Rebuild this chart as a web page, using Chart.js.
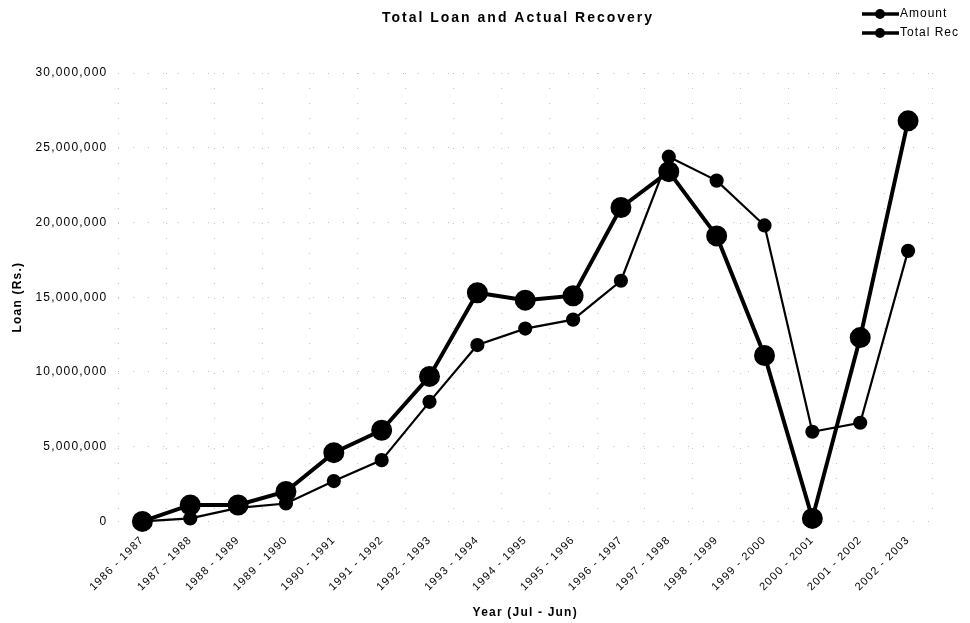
<!DOCTYPE html>
<html>
<head>
<meta charset="utf-8">
<script src="https://cdn.jsdelivr.net/npm/chart.js@4"></script>
<style>
  html, body { margin: 0; padding: 0; background: #fff; }
  #wrap { width: 970px; height: 623px; }
</style>
</head>
<body>
<div id="wrap"><canvas id="chart" width="970" height="623"></canvas></div>
<script>
// 연도 (Jul - Jun)
const years = [
  "1986 - 1987", "1987 - 1988", "1988 - 1989", "1989 - 1990", "1990 - 1991",
  "1991 - 1992", "1992 - 1993", "1993 - 1994", "1994 - 1995", "1995 - 1996",
  "1996 - 1997", "1997 - 1998", "1998 - 1999", "1999 - 2000", "2000 - 2001",
  "2001 - 2002", "2002 - 2003",
];

// 대출 금액
const amount = [
  0, 1100000, 1100000, 2000000, 4600000, 6100000, 9700000, 15300000,
  14800000, 15100000, 21000000, 23400000, 19100000, 11100000, 200000,
  12300000, 26800000,
];

// 실제 회수
const totalRec = [
  0, 200000, 900000, 1200000, 2700000, 4100000, 8000000, 11800000,
  12900000, 13500000, 16100000, 24400000, 22800000, 19800000, 6000000,
  6600000, 18100000,
];

const yTicks = [0, 5000000, 10000000, 15000000, 20000000, 25000000, 30000000];

const chartTitle = "Total Loan and Actual Recovery";

const FONT = "'Liberation Sans', Arial, sans-serif";

// 원본 글자가 옆으로 늘어나 있어서 자간을 조금 준다
const spacing = {
  id: "spacing",
  beforeUpdate(chart) {
    chart.ctx.letterSpacing = "1.2px";
  },
  beforeDraw(chart) {
    chart.ctx.letterSpacing = "1.2px";
  },
};

// 제목 + 범례 (오른쪽 위, 선 + 점)
const headerPlugin = {
  id: "headerPlugin",
  afterDraw(chart) {
    const ctx = chart.ctx;
    ctx.save();
    ctx.fillStyle = "#000";
    ctx.letterSpacing = "2px";
    ctx.font = "bold 14px " + FONT;
    ctx.textAlign = "center";
    ctx.textBaseline = "middle";
    ctx.fillText(chartTitle, 518, 18);

    ctx.letterSpacing = "1px";
    const x0 = 862;
    let y = 14;
    chart.data.datasets.forEach((ds) => {
      ctx.strokeStyle = "#000";
      ctx.fillStyle = "#000";
      ctx.lineWidth = 3.5;
      ctx.beginPath();
      ctx.moveTo(x0, y);
      ctx.lineTo(x0 + 37, y);
      ctx.stroke();
      ctx.beginPath();
      ctx.arc(x0 + 18, y, 5, 0, Math.PI * 2);
      ctx.fill();
      ctx.font = "12px " + FONT;
      ctx.textAlign = "left";
      ctx.fillText(ds.label, x0 + 38, y);
      y += 19;
    });
    ctx.restore();
  },
};

const $chart = document.getElementById("chart").getContext("2d");

new Chart($chart, {
  type: "line",
  data: {
    labels: years,
    datasets: [
      {
        label: "Amount",
        data: amount,
        borderColor: "#000",
        backgroundColor: "#000",
        borderWidth: 4,
        pointRadius: 8.5,
        pointHoverRadius: 8.5,
        tension: 0,
        clip: false,
      },
      {
        label: "Total Rec",
        data: totalRec,
        borderColor: "#000",
        backgroundColor: "#000",
        borderWidth: 2.2,
        pointRadius: 6,
        pointHoverRadius: 6,
        tension: 0,
        clip: false,
      },
    ],
  },
  options: {
    responsive: false,
    animation: false,
    layout: { padding: { left: 10, right: 38, top: 73, bottom: 3 } },
    plugins: {
      legend: { display: false },
      tooltip: { enabled: false },
      title: { display: false },
    },
    scales: {
      x: {
        offset: true,
        grid: { color: "#c4c4c4", drawTicks: false, offset: true },
        border: { display: false, dash: [1, 14] },
        ticks: {
          color: "#000",
          minRotation: 45,
          maxRotation: 45,
          padding: 12,
          font: { family: FONT, size: 11 },
        },
        title: {
          display: true,
          text: "Year (Jul - Jun)",
          color: "#000",
          font: { family: FONT, size: 12, weight: "bold" },
          padding: { top: 0, bottom: 0 },
        },
      },
      y: {
        min: 0,
        max: 30000000,
        afterBuildTicks: (axis) => {
          axis.ticks = yTicks.map((v) => ({ value: v }));
        },
        grid: { color: "#c4c4c4", drawTicks: false },
        border: { display: false, dash: [1, 14] },
        ticks: {
          color: "#000",
          padding: 11,
          font: { family: FONT, size: 12 },
          callback: (v) => Number(v).toLocaleString("en-US"),
        },
        title: {
          display: true,
          text: "Loan (Rs.)",
          color: "#000",
          font: { family: FONT, size: 12, weight: "bold" },
          padding: { top: 0, bottom: 0 },
        },
      },
    },
  },
  plugins: [spacing, headerPlugin],
});
</script>
</body>
</html>
